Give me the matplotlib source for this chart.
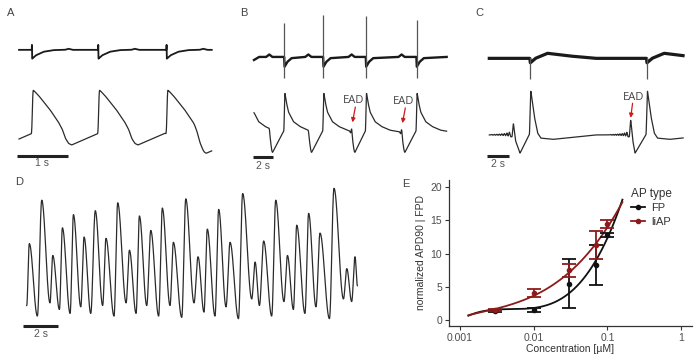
import numpy as np
import matplotlib
matplotlib.use('Agg')
import matplotlib.pyplot as plt
from matplotlib.lines import Line2D

plt.rcParams['font.family'] = ['Liberation Sans', 'DejaVu Sans']

W, H = 700, 360

# ---------------- data ----------------
# A: paced beats, upstroke times (s)
a_up = [0.25, 1.55, 2.89]
a_extra_trough = [0.0, 0.0, -0.15]
a_end = 3.78
a_ap_t = [0, 0.02, 0.05, 0.15, 0.35, 0.52, 0.60, 0.66, 0.72, 0.78, 1.30]
a_ap_v = [0.21, 1.0, 0.98, 0.88, 0.65, 0.42, 0.28, 0.12, 0.03, 0.0, 0.21]
a_fp_t = [0, 0.004, 0.009, 0.08, 0.23, 0.42, 0.65, 0.72, 0.80, 1.30]
a_fp_v = [0, 0.08, -0.17, -0.11, -0.045, -0.015, -0.01, 0.01, -0.01, -0.01]
a_fp_base = 1.74

# B: upstrokes, repolarisation (drop) times, EAD flags
b_up = [-0.43, 2.94, 6.71, 10.84, 15.74]
b_drop = [1.48, 5.26, 9.45, 14.29]
b_ead = [False, False, True, True]
b_spike_top = [2.12, 2.26, 2.24, 2.18]
b_end = 18.65
b_decay_t = [0.03, 0.2, 0.39, 0.87, 1.5, 2.3, 3.0, 4.5]
b_decay_v = [1.0, 0.82, 0.67, 0.51, 0.43, 0.37, 0.35, 0.33]
b_rise_v = 0.36
b_fp_base = 1.57

# C: two beats preceded by oscillations + EAD
c_up = [3.76, 14.53]
c_ead = [2.22, 13.05]
c_ead_v = [0.48, 0.54]
c_trough = [2.83, 13.45]
c_osc_start = [0.1, 11.1]
c_osc_amp = [0.008, 0.01, 0.012, 0.015, 0.02, 0.025, 0.035, 0.05]
c_base = 0.29
c_rise_v = 0.3
c_decay_t = [0.06, 0.4, 0.7, 1.0, 2.1, 6.0]
c_decay_v = [1.0, 0.58, 0.32, 0.24, 0.22, 0.29]
c_end = 17.9
c_fp_base = 1.5

# D: spontaneous oscillations, peaks and troughs
d_peak_t = [0.15, 0.86, 1.49, 2.04, 2.67, 3.28, 3.92, 4.53, 5.2, 5.87, 6.44, 7.09,
            7.75, 8.38, 9.09, 9.79, 10.32, 10.97, 11.62, 12.34, 13.05, 13.54, 14.23,
            14.9, 15.43, 16.11, 16.76, 17.56, 18.29, 18.76]
d_peak_v = [0.58, 0.91, 0.49, 0.70, 0.80, 0.63, 0.83, 0.62, 0.89, 0.53, 0.79, 0.68,
            0.85, 0.59, 0.92, 0.48, 0.69, 0.84, 0.59, 0.96, 0.44, 0.60, 0.91,
            0.49, 0.72, 0.81, 0.66, 1.0, 0.39, 0.48]
d_trough_t = [0.61, 1.33, 1.87, 2.48, 3.09, 3.66, 4.34, 4.99, 5.68, 6.25, 6.86, 7.54,
              8.19, 8.86, 9.56, 10.13, 10.76, 11.39, 12.1, 12.86, 13.3, 14.0, 14.7,
              15.24, 15.9, 16.53, 17.3, 18.1, 18.57]
d_trough_v = [0.03, 0.13, 0.08, 0.05, 0.10, 0.05, 0.11, 0.03, 0.13, 0.05, 0.11, 0.03,
              0.11, 0.02, 0.13, 0.06, 0.03, 0.10, 0.01, 0.16, 0.11, 0.03, 0.14,
              0.08, 0.05, 0.10, 0.01, 0.16, 0.14]
d_start_v = 0.11
d_end = (18.9, 0.26)

# E: concentration response
conc = [0.003, 0.01, 0.03, 0.07, 0.1]
fp_mean = [1.4, 1.5, 5.5, 8.3, 12.8]
fp_err = [0.15, 0.3, 3.7, 3.0, 0.3]
liap_mean = [1.5, 4.1, 7.5, 11.3, 14.5]
liap_err = [0.2, 0.65, 1.0, 2.15, 0.6]
fit_x = [0.0013, 0.003, 0.01, 0.02, 0.03, 0.05, 0.07, 0.1, 0.13, 0.16]
fit_fp = [0.85, 1.1, 2.0, 3.0, 4.3, 6.4, 8.7, 12.1, 15.3, 18.5]
fit_liap = [0.8, 1.5, 3.8, 5.6, 7.2, 9.5, 11.4, 14.0, 16.0, 17.8]

TR = '#2b2b2b'
RED = '#cc1a1a'
BLK = '#111111'
DRED = '#8e1b1b'
SPK = '#555555'

fig = plt.figure(figsize=(7, 3.6), dpi=100)


def trace_axes(left, top, right, bottom, t0, pps, v0, ppv):
    ax = fig.add_axes([left / W, 1 - bottom / H, (right - left) / W, (bottom - top) / H])
    ax.set_xlim((left - t0) / pps, (right - t0) / pps)
    ax.set_ylim((v0 - bottom) / ppv, (v0 - top) / ppv)
    ax.axis('off')
    return ax


def smooth(t, v, w):
    n = max(1, int(round(w / (t[1] - t[0]))))
    k = np.ones(n) / n
    vp = np.pad(v, (n // 2, n - 1 - n // 2), mode='edge')
    return np.convolve(vp, k, mode='valid')


def beats(t, ups, tt, tv, pre):
    ups = np.asarray(ups)
    idx = np.searchsorted(ups, t, side='right') - 1
    rel = np.where(idx >= 0, t - ups[np.clip(idx, 0, None)], t - ups[0] + pre)
    return np.interp(rel, tt, tv), idx, rel


def scalebar(ax, t0, length, v, label, dv):
    ax.plot([t0, t0 + length], [v, v], color='#222222', lw=2.2, solid_capstyle='butt')
    ax.text(t0 + length / 2, v - dv, label, ha='center', va='center', fontsize=7.5,
            color='#555555')


def ead_arrow(ax, x, y, tail, txt):
    ax.annotate('', xy=(x, y), xytext=tail,
                arrowprops=dict(arrowstyle='-|>', color=RED, lw=0.9, mutation_scale=6,
                                shrinkA=0, shrinkB=0))
    ax.text(txt[0], txt[1], 'EAD', ha='center', va='center', fontsize=8,
            color='#444444', family=['Open Sans', 'DejaVu Sans'])


def panel_label(x, y, s):
    fig.text(x / W, 1 - y / H, s, fontsize=8, color='#444444', ha='left', va='center')


# ---------------- A ----------------
axA = trace_axes(5, 25, 232, 172, 19, 51, 145, 55)
t = np.arange(0, a_end, 0.002)
v, idx, rel = beats(t, a_up, a_ap_t, a_ap_v, 1.30)
extra = np.where(idx >= 0, np.asarray(a_extra_trough)[np.clip(idx, 0, None)], 0)
v = v + extra * np.clip((rel - 0.55) / 0.2, 0, 1)
axA.plot(t, smooth(t, v, 0.02), color=TR, lw=0.9)
tf = np.arange(0, a_end, 0.001)
fv, _, _ = beats(tf, a_up, a_fp_t, a_fp_v, 1.30)
axA.plot(tf, a_fp_base + fv, color='#1a1a1a', lw=1.3)
scalebar(axA, -0.04, 1.0, -0.2, '1 s', 0.13)

# ---------------- B ----------------
axB = trace_axes(243, 5, 458, 172, 254, 10.33, 152.7, 61)
kt, kv = [], []
for i, u in enumerate(b_up):
    d = b_drop[i] if i < len(b_drop) else None
    stop = d if d is not None else b_end
    lim = stop - 0.2 if (d is not None and b_ead[i]) else stop
    for r, val in zip(b_decay_t, b_decay_v):
        if u + r < lim:
            kt.append(u + r)
            kv.append(val)
    vp = np.interp(stop - u, b_decay_t, b_decay_v)
    if d is None:
        kt.append(b_end)
        kv.append(vp)
        break
    if b_ead[i]:
        kt += [d - 0.2, d - 0.1, d]
        kv += [vp, vp - 0.04, vp + 0.05]
    else:
        kt.append(d)
        kv.append(vp)
    kt += [d + 0.1, d + 0.22, d + 0.3, b_up[i + 1] - 0.04]
    kv += [vp * 0.55, 0.05, 0.0, b_rise_v]
t = np.arange(0, b_end, 0.005)
v = np.interp(t, kt, kv)
axB.plot(t, smooth(t, v, 0.06), color=TR, lw=0.9)

ft = [0, 0.5, b_drop[0] - 0.3, b_drop[0], b_drop[0] + 0.3]
fvv = [1.52, b_fp_base, b_fp_base, b_fp_base + 0.04, b_fp_base]
for i, u in enumerate(b_up[1:]):
    ft += [u - 0.02, u + 0.02, u + 0.3, u + 0.7]
    fvv += [b_fp_base, 1.41, 1.49, 1.55]
    if i + 1 < len(b_drop):
        d = b_drop[i + 1]
        ft += [d - 0.3, d, d + 0.3]
        fvv += [b_fp_base, b_fp_base + 0.04, b_fp_base]
ft.append(b_end)
fvv.append(b_fp_base)
axB.plot(ft, fvv, color='#1a1a1a', lw=1.7)
axB.vlines(b_up[1:], 1.22, b_spike_top, color=SPK, lw=0.9)
scalebar(axB, -0.13, 2.0, -0.066, '2 s', 0.155)
for i, d in enumerate(b_drop):
    if b_ead[i]:
        pk = np.interp(d - b_up[i], b_decay_t, b_decay_v) + 0.05
        ead_arrow(axB, d + 0.08, pk + 0.09, (d + 0.36, pk + 0.34), (d + 0.15, pk + 0.45))

# ---------------- C ----------------
axC = trace_axes(473, 5, 697, 172, 489.3, 10.83, 153.3, 63.3)
kt, kv = [0.0], [c_base]
for i, u in enumerate(c_up):
    s = c_osc_start[i]
    per = (c_ead[i] - 0.25 - s) / len(c_osc_amp)
    kt.append(s)
    kv.append(c_base)
    for k, a in enumerate(c_osc_amp):
        kt += [s + k * per + per * 0.5, s + (k + 1) * per]
        kv += [c_base + a, c_base - a * 0.6]
    kt += [c_ead[i] - 0.12, c_ead[i], c_ead[i] + 0.2, c_trough[i], u - 0.05]
    kv += [c_base - 0.03, c_ead_v[i], 0.2, 0.0, c_rise_v]
    for r, val in zip(c_decay_t, c_decay_v):
        if i + 1 < len(c_up) and u + r >= c_osc_start[i + 1]:
            break
        kt.append(u + r)
        kv.append(val)
t = np.arange(0, c_end, 0.005)
v = np.interp(t, kt, kv)
axC.plot(t, smooth(t, v, 0.04), color=TR, lw=0.9)

ft, fvv = [0.0], [c_fp_base]
for i, u in enumerate(c_up):
    ft += [u - 0.02, u + 0.03, u + 0.5, u + 1.6, u + 3.5, u + 6.0]
    fvv += [c_fp_base, 1.43, 1.5, 1.58, 1.54, c_fp_base]
tf = np.arange(0, c_end, 0.01)
axC.plot(tf, np.interp(tf, ft, fvv), color='#1a1a1a', lw=2.3)
axC.vlines(c_up, 1.18, c_fp_base + 0.02, color=SPK, lw=0.9)
scalebar(axC, -0.18, 2.0, -0.04, '2 s', 0.13)
for i in range(1, len(c_ead)):
    x, y = c_ead[i], c_ead_v[i] + 0.02
    ead_arrow(axC, x, y, (x + 0.18, y + 0.23), (x + 0.3, y + 0.32))

# ---------------- D ----------------
axD = trace_axes(5, 178, 365, 345, 26.7, 17.5, 320, 131.7)
ext_t = [0.0]
ext_v = [d_start_v]
for i in range(len(d_peak_t)):
    ext_t.append(d_peak_t[i])
    ext_v.append(d_peak_v[i])
    if i < len(d_trough_t):
        ext_t.append(d_trough_t[i])
        ext_v.append(d_trough_v[i])
ext_t.append(d_end[0])
ext_v.append(d_end[1])
tt, vv = [], []
for i in range(len(ext_t) - 1):
    s = np.linspace(0, 1, 30, endpoint=False)
    tt.append(ext_t[i] + s * (ext_t[i + 1] - ext_t[i]))
    vv.append(ext_v[i] + (ext_v[i + 1] - ext_v[i]) * (1 - np.cos(np.pi * s)) / 2)
axD.plot(np.concatenate(tt), np.concatenate(vv), color=TR, lw=0.9)
scalebar(axD, -0.19, 2.0, -0.043, '2 s', 0.067)

# ---------------- E ----------------
axE = fig.add_axes([449 / W, 1 - 326 / H, (692 - 449) / W, (326 - 180) / H])
axE.set_xscale('log')
axE.set_xlim(10 ** -3.149, 10 ** 0.148)
axE.set_ylim(-0.9, 21.1)

xs = np.logspace(np.log10(fit_x[0]), np.log10(fit_x[-1]), 200)
for fy, col in [(fit_fp, BLK), (fit_liap, DRED)]:
    c = np.polyfit(np.log10(fit_x), fy, 3)
    axE.plot(xs, np.polyval(c, np.log10(xs)), color=col, lw=1.3)
axE.errorbar(conc, fp_mean, yerr=fp_err, fmt='o', color=BLK, ms=3, capsize=5,
             elinewidth=1.3, capthick=1.3)
axE.errorbar(conc, liap_mean, yerr=liap_err, fmt='o', color=DRED, ms=3, capsize=5,
             elinewidth=1.3, capthick=1.3)

axE.set_xticks([0.001, 0.01, 0.1, 1])
axE.set_xticklabels(['0.001', '0.01', '0.1', '1'])
axE.minorticks_off()
axE.set_yticks([0, 5, 10, 15, 20])
for sp in ['top', 'right']:
    axE.spines[sp].set_visible(False)
for sp in ['left', 'bottom']:
    axE.spines[sp].set_color('#333333')
    axE.spines[sp].set_linewidth(0.9)
axE.tick_params(labelsize=7.5, labelcolor='#4d4d4d', color='#333333', length=3, width=0.8,
                pad=2)
axE.set_xlabel('Concentration [\u00b5M]', fontsize=7.5, color='#333333', labelpad=1)
axE.set_ylabel('normalized APD90 | FPD', fontsize=7.5, color='#333333', labelpad=3)

handles = [Line2D([], [], color=BLK, marker='o', ms=3, lw=1.3),
           Line2D([], [], color=DRED, marker='o', ms=3, lw=1.3)]
leg = axE.legend(handles, ['FP', 'liAP'], title='AP type', loc='upper left',
                 bbox_to_anchor=(631 / W, 1 - 188 / H), bbox_transform=fig.transFigure,
                 frameon=False, fontsize=8, title_fontsize=8.5, handlelength=1.3,
                 handletextpad=0.5, labelspacing=0.3, alignment='left', borderaxespad=0,
                 borderpad=0)
for txt in leg.get_texts():
    txt.set_color('#333333')
leg.get_title().set_color('#333333')

panel_label(7, 13, 'A')
panel_label(240, 13, 'B')
panel_label(475, 13, 'C')
panel_label(15, 182, 'D')
panel_label(402, 184, 'E')

fig.savefig('out.png', dpi=100)
